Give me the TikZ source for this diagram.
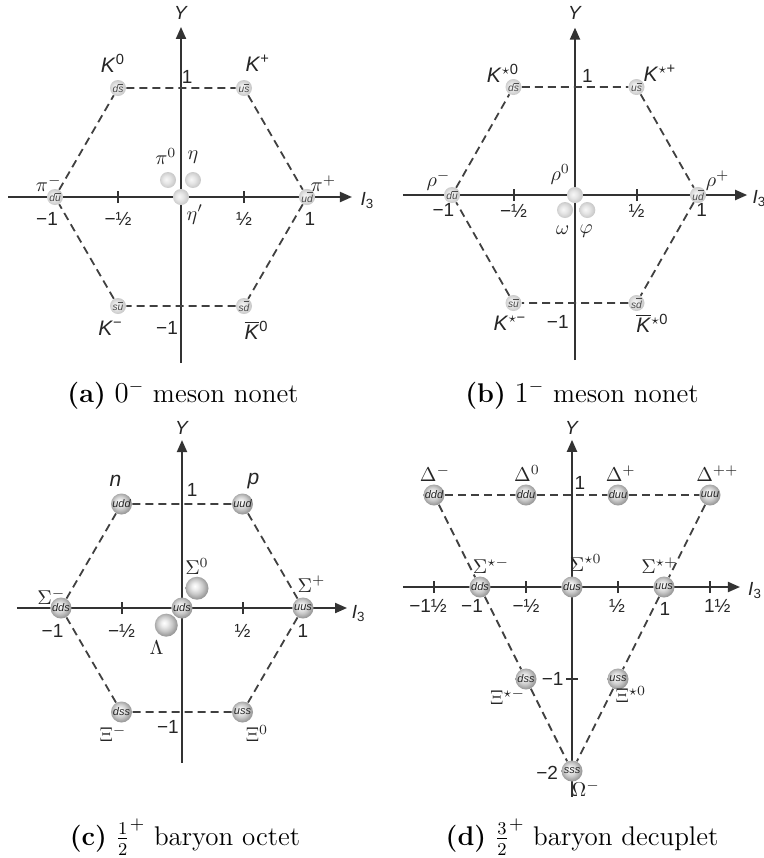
\documentclass[tikz,border=0pt]{standalone}
\usepackage{fontspec}
\setsansfont{Liberation Sans}
\usetikzlibrary{arrows.meta}
\newcommand\qbar[1]{$\overline{\hbox{#1}}$}
\pgfdeclareradialshading{baryball}{\pgfpoint{-5bp}{5bp}}{color(0bp)=(white); color(7bp)=(gray!14); color(16bp)=(gray!42); color(25bp)=(gray!78); color(50bp)=(gray!85)}
\pgfdeclareradialshading{mesball}{\pgfpoint{-6bp}{2bp}}{color(0bp)=(gray!6); color(12bp)=(gray!20); color(25bp)=(gray!42); color(50bp)=(gray!45)}
\tikzset{
  axis/.style={draw=black!80, line width=1pt, -{Triangle[length=6pt,width=5pt]}},
  hexline/.style={draw=black!75, line width=0.9pt, dash pattern=on 4pt off 2.5pt},
  tickmark/.style={draw=black!80, line width=1pt},
  mball/.style={circle, minimum size=8pt, inner sep=0pt, shading=mesball,
    font=\fontsize{5.1}{6}\selectfont\sffamily\itshape, text=black!70},
  bball/.style={circle, minimum size=10.5pt, inner sep=0pt, shading=baryball,
    font=\fontsize{5.5}{6}\selectfont\sffamily\itshape, text=black!85},
  xball/.style={bball, minimum size=11.5pt},
  plab/.style={font=\fontsize{10.5}{12}\selectfont\sffamily, text=black!85, inner sep=0pt},
  glab/.style={font=\fontsize{10}{12}\selectfont, text=black!85, inner sep=0pt},
  tlab/.style={font=\fontsize{9.5}{11}\selectfont\sffamily, text=black!85, inner sep=0pt},
  axlab/.style={font=\fontsize{9.5}{11}\selectfont\sffamily, text=black!85, inner sep=0pt},
  captext/.style={font=\fontsize{13.5}{16}\selectfont, inner sep=0pt},
}
\begin{document}
\begin{tikzpicture}[x=0.5pt,y=-0.5pt]
\useasboundingbox (0,0) rectangle (764,858);

% ---------------- panel (a) ----------------
\begin{scope}[shift={(90.5pt,-98.5pt)},x=63pt,y=54.5pt]
  \coordinate (aL) at (-1.373,0);
  \coordinate (aR) at (1.357,0);
  \coordinate (aB) at (0,-1.523);
  \coordinate (aT) at (0,1.56);
  \draw[axis] (aL) -- (aR);
  \draw[axis] (aB) -- (aT);
  \foreach \t in {-0.5,0.5} \draw[tickmark] (\t,0) ++(0,-3pt) -- ++(0,6pt);
  \node[axlab] (aY) at (0,1.69) {\textit{Y}};
  \node[axlab] (aI) at (1.48,-0.03) {\textit{I}\textsubscript{3}};
  \node[tlab] (at1) at (-1.063,-0.20) {−1};
  \node[tlab] (at2) at (-0.5,-0.20) {−½};
  \node[tlab] (at3) at (0.5,-0.20) {½};
  \node[tlab] (at4) at (1.024,-0.20) {1};
  \node[tlab] (at5) at (0.048,1.10) {1};
  \node[tlab] (at6) at (-0.111,-1.20) {−1};
  \node[mball] (ads) at (-0.5,1) {d\qbar{s}};
  \node[mball] (aus) at (0.5,1) {u\qbar{s}};
  \node[mball] (adu) at (-1,0) {d\qbar{u}};
  \node[mball] (aud) at (1,0) {u\qbar{d}};
  \node[mball] (asu) at (-0.5,-1) {s\qbar{u}};
  \node[mball] (asd) at (0.5,-1) {s\qbar{d}};
  \node[mball] (api0) at (-0.103,0.156) {};
  \node[mball] (aeta) at (0.095,0.156) {};
  \node[mball] (aetap) at (0,0) {};
  \draw[hexline] (ads) -- (aus) -- (aud) -- (asd) -- (asu) -- (adu) -- (ads);
  \node[plab] (lK0) at (-0.54,1.23) {\textit{K}\textsuperscript{0}};
  \node[plab] (lKp) at (0.61,1.23) {\textit{K}\textsuperscript{+}};
  \node[plab] (lKm) at (-0.56,-1.20) {\textit{K}\textsuperscript{−}};
  \node[plab] (lKb) at (0.60,-1.22) {\qbar{\textit{K}}\textsuperscript{0}};
  \node[glab] (lpim) at (-1.05,0.12) {$\pi^-$};
  \node[glab] (lpip) at (1.13,0.12) {$\pi^+$};
  \node[glab] (lpi0) at (-0.12,0.37) {$\pi^0$};
  \node[glab] (leta) at (0.095,0.37) {$\eta$};
  \node[glab] (letap) at (0.11,-0.16) {$\eta'$};
\end{scope}
\node[captext] (acap) at (183,395) {\textbf{(a)} $0^-$ meson nonet};

% ---------------- panel (b) ----------------
\begin{scope}[shift={(287.5pt,-97.5pt)},x=61.5pt,y=54pt]
  \coordinate (bL) at (-1.40,0);
  \coordinate (bR) at (1.40,0);
  \coordinate (bB) at (0,-1.53);
  \coordinate (bT) at (0,1.55);
  \draw[axis] (bL) -- (bR);
  \draw[axis] (bB) -- (bT);
  \foreach \t in {-0.5,0.5} \draw[tickmark] (\t,0) ++(0,-3pt) -- ++(0,6pt);
  \node[axlab] (bY) at (0,1.69) {\textit{Y}};
  \node[axlab] (bI) at (1.50,-0.03) {\textit{I}\textsubscript{3}};
  \node[tlab] (bt1) at (-1.07,-0.14) {−1};
  \node[tlab] (bt2) at (-0.5,-0.15) {−½};
  \node[tlab] (bt3) at (0.5,-0.15) {½};
  \node[tlab] (bt4) at (1.03,-0.14) {1};
  \node[tlab] (bt5) at (0.10,1.10) {1};
  \node[tlab] (bt6) at (-0.14,-1.18) {−1};
  \node[mball] (bds) at (-0.5,1) {d\qbar{s}};
  \node[mball] (bus) at (0.5,1) {u\qbar{s}};
  \node[mball] (bdu) at (-1,0) {d\qbar{u}};
  \node[mball] (bud) at (1,0) {u\qbar{d}};
  \node[mball] (bsu) at (-0.5,-1) {s\qbar{u}};
  \node[mball] (bsd) at (0.5,-1) {s\qbar{d}};
  \node[mball] (bomega) at (-0.081,-0.139) {};
  \node[mball] (bphi) at (0.10,-0.139) {};
  \node[mball] (brho0) at (0,0) {};
  \draw[hexline] (bds) -- (bus) -- (bud) -- (bsd) -- (bsu) -- (bdu) -- (bds);
  \node[plab] (lKs0) at (-0.585,1.13) {\textit{K}\textsuperscript{$\star$0}};
  \node[plab] (lKsp) at (0.69,1.13) {\textit{K}\textsuperscript{$\star$+}};
  \node[plab] (lKsm) at (-0.53,-1.19) {\textit{K}\textsuperscript{$\star$−}};
  \node[plab] (lKsb) at (0.63,-1.19) {\qbar{\textit{K}}\textsuperscript{$\star$0}};
  \node[glab] (lrhom) at (-1.11,0.13) {$\rho^-$};
  \node[glab] (lrhop) at (1.16,0.13) {$\rho^+$};
  \node[glab] (lrho0) at (-0.12,0.19) {$\rho^0$};
  \node[glab] (lomega) at (-0.10,-0.33) {$\omega$};
  \node[glab] (lphi) at (0.09,-0.33) {$\varphi$};
\end{scope}
\node[captext] (bcap) at (582,395) {\textbf{(b)} $1^-$ meson nonet};

% ---------------- panel (c) ----------------
\begin{scope}[shift={(91pt,-304pt)},x=60.5pt,y=52pt]
  \coordinate (cL) at (-1.364,0);
  \coordinate (cR) at (1.364,0);
  \coordinate (cB) at (0,-1.49);
  \coordinate (cT) at (0,1.615);
  \draw[axis] (cL) -- (cR);
  \draw[axis] (cB) -- (cT);
  \foreach \t in {-0.5,0.5} \draw[tickmark] (\t,0) ++(0,-3pt) -- ++(0,6pt);
  \node[axlab] (cY) at (0,1.73) {\textit{Y}};
  \node[axlab] (cI) at (1.46,-0.05) {\textit{I}\textsubscript{3}};
  \node[tlab] (ct1) at (-1.07,-0.22) {−1};
  \node[tlab] (ct2) at (-0.5,-0.22) {−½};
  \node[tlab] (ct3) at (0.5,-0.22) {½};
  \node[tlab] (ct4) at (1.0,-0.22) {1};
  \node[tlab] (ct5) at (0.083,1.135) {1};
  \node[tlab] (ct6) at (-0.116,-1.145) {−1};
  \node[bball] (cudd) at (-0.5,1) {udd};
  \node[bball] (cuud) at (0.5,1) {uud};
  \node[bball] (cdds) at (-1,0) {dds};
  \node[bball] (cuus) at (1,0) {uus};
  \node[bball] (cdss) at (-0.5,-1) {dss};
  \node[bball] (cuss) at (0.5,-1) {uss};
  \node[xball] (csig0) at (0.124,0.19) {};
  \node[xball] (clam) at (-0.13,-0.165) {};
  \node[bball] (cuds) at (0,0) {uds};
  \draw[hexline] (cudd) -- (cuud) -- (cuus) -- (cuss) -- (cdss) -- (cdds) -- (cudd);
  \node[plab] (ln) at (-0.55,1.22) {\textit{n}};
  \node[plab] (lp) at (0.59,1.22) {\textit{p}};
  \node[glab] (lSm) at (-1.08,0.11) {$\Sigma^-$};
  \node[glab] (lSp) at (1.07,0.23) {$\Sigma^+$};
  \node[glab] (lS0) at (0.124,0.40) {$\Sigma^0$};
  \node[glab] (lL) at (-0.21,-0.38) {$\Lambda$};
  \node[glab] (lXm) at (-0.57,-1.21) {$\Xi^-$};
  \node[glab] (lX0) at (0.62,-1.21) {$\Xi^0$};
\end{scope}
\node[captext] (ccap) at (185,837) {\textbf{(c)} $\frac{1}{2}^+$ baryon octet};

% ---------------- panel (d) ----------------
\begin{scope}[shift={(286pt,-293.5pt)},x=46pt,y=46pt]
  \coordinate (dL) at (-1.837,0);
  \coordinate (dR) at (1.826,0);
  \coordinate (dB) at (0,-2.28);
  \coordinate (dT) at (0,1.60);
  \draw[axis] (dL) -- (dR);
  \draw[axis] (dB) -- (dT);
  \foreach \t in {-1.5,-0.5,0.5,1.5} \draw[tickmark] (\t,0) ++(0,-3pt) -- ++(0,6pt);
  \draw[tickmark] (0,-1) ++(-3pt,0) -- ++(6pt,0);
  \node[axlab] (dY) at (0,1.73) {\textit{Y}};
  \node[axlab] (dI) at (1.99,-0.04) {\textit{I}\textsubscript{3}};
  \node[tlab] (dt1) at (-1.565,-0.21) {−1½};
  \node[tlab] (dt2) at (-1.087,-0.21) {−1};
  \node[tlab] (dt3) at (-0.5,-0.21) {−½};
  \node[tlab] (dt4) at (0.49,-0.21) {½};
  \node[tlab] (dt5) at (1.01,-0.24) {1};
  \node[tlab] (dt6) at (1.58,-0.21) {1½};
  \node[tlab] (dt7) at (0.087,1.13) {1};
  \node[tlab] (dt8) at (-0.21,-1.0) {−1};
  \node[tlab] (dt9) at (-0.27,-2.02) {−2};
  \node[bball] (dddd) at (-1.5,1) {ddd};
  \node[bball] (dddu) at (-0.5,1) {ddu};
  \node[bball] (dduu) at (0.5,1) {duu};
  \node[bball] (duuu) at (1.5,1) {uuu};
  \node[bball] (ddds) at (-1,0) {dds};
  \node[bball] (ddus) at (0,0) {dus};
  \node[bball] (duus) at (1,0) {uus};
  \node[bball] (ddss) at (-0.5,-1) {dss};
  \node[bball] (duss) at (0.5,-1) {uss};
  \node[bball] (dsss) at (0,-2) {sss};
  \draw[hexline] (dddd) -- (dddu) -- (dduu) -- (duuu);
  \draw[hexline] (dddd) -- (ddds) -- (ddss) -- (dsss);
  \draw[hexline] (duuu) -- (duus) -- (duss) -- (dsss);
  \node[glab] (lDm) at (-1.49,1.23) {$\Delta^-$};
  \node[glab] (lD0) at (-0.49,1.23) {$\Delta^0$};
  \node[glab] (lDp) at (0.53,1.23) {$\Delta^+$};
  \node[glab] (lDpp) at (1.58,1.23) {$\Delta^{++}$};
  \node[glab] (lSsm) at (-0.88,0.23) {$\Sigma^{\star-}$};
  \node[glab] (lSs0) at (0.15,0.26) {$\Sigma^{\star0}$};
  \node[glab] (lSsp) at (0.95,0.23) {$\Sigma^{\star+}$};
  \node[glab] (lXsm) at (-0.70,-1.19) {$\Xi^{\star-}$};
  \node[glab] (lXs0) at (0.64,-1.17) {$\Xi^{\star0}$};
  \node[glab] (lOm) at (0.15,-2.19) {$\Omega^-$};
\end{scope}
\node[captext] (dcap) at (582,837) {\textbf{(d)} $\frac{3}{2}^+$ baryon decuplet};
\end{tikzpicture}
\end{document}
